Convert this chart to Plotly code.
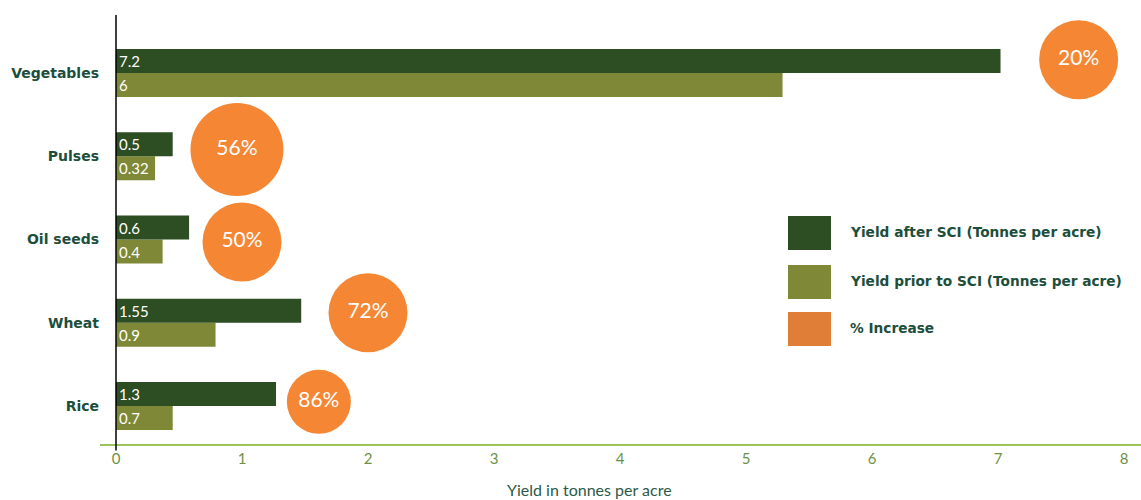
import plotly.graph_objects as go

# ---- data ----
categories = ["Rice", "Wheat", "Oil seeds", "Pulses", "Vegetables"]
yield_after = [1.27, 1.47, 0.58, 0.45, 7.02]          # bar lengths as drawn
yield_after_labels = ["1.3", "1.55", "0.6", "0.5", "7.2"]
yield_prior = [0.45, 0.79, 0.37, 0.31, 5.29]          # bar lengths as drawn
yield_prior_labels = ["0.7", "0.9", "0.4", "0.32", "6"]
pct_increase_labels = ["86%", "72%", "50%", "56%", "20%"]
bubble_x = [1.61, 2.0, 1.0, 0.96, 7.64]
bubble_y_offset = [0.05, 0.12, -0.03, 0.08, 0.16]
bubble_diam = [64, 79, 79, 93, 79]
x_ticks = [0, 1, 2, 3, 4, 5, 6, 7, 8]

DARK = "#2D4D22"
OLIVE = "#7E8836"
ORANGE = "#F58634"
ORANGE_LEG = "#E07E38"
TEXT_GREEN = "#1C4E3B"

pos = list(range(len(categories)))

fig = go.Figure()
fig.add_trace(go.Bar(
    y=pos, x=yield_prior, orientation="h", name="Yield prior to SCI (Tonnes per acre)",
    marker=dict(color=OLIVE, line=dict(width=0)),
    text=yield_prior_labels, textposition="inside", insidetextanchor="start", textangle=0,
    textfont=dict(color="white", size=15, family="Lato"), showlegend=False,
))
fig.add_trace(go.Bar(
    y=pos, x=yield_after, orientation="h", name="Yield after SCI (Tonnes per acre)",
    marker=dict(color=DARK, line=dict(width=0)),
    text=yield_after_labels, textposition="inside", insidetextanchor="start", textangle=0,
    textfont=dict(color="white", size=15, family="Lato"), showlegend=False,
))
fig.add_trace(go.Scatter(
    x=bubble_x, y=[p + o for p, o in zip(pos, bubble_y_offset)], mode="markers+text",
    marker=dict(color=ORANGE, size=bubble_diam, sizemode="diameter", line=dict(width=0), opacity=1),
    text=pct_increase_labels, textposition="middle center",
    textfont=dict(color="white", size=21, family="Lato"), showlegend=False, cliponaxis=False,
))

# y axis line at x = 0
fig.add_shape(type="line", xref="x", yref="paper", x0=0, x1=0, y0=-0.015, y1=1,
              line=dict(color="black", width=1.5))

# manual legend
legend_items = [("Yield after SCI (Tonnes per acre)", DARK),
                ("Yield prior to SCI (Tonnes per acre)", OLIVE),
                ("% Increase", ORANGE_LEG)]
W, H = 1141, 500
ML, MR, MT, MB = 100, 0, 15, 56
pw, ph = W - ML - MR, H - MT - MB
def px(x):
    return (x - ML) / pw
def py(y):
    return (H - MB - y) / ph
row_centers = [233, 282, 329]
for (label, col), yc in zip(legend_items, row_centers):
    fig.add_shape(type="rect", xref="paper", yref="paper",
                  x0=px(788), x1=px(831), y0=py(yc + 17), y1=py(yc - 17),
                  fillcolor=col, line=dict(width=0))
    fig.add_annotation(xref="paper", yref="paper", x=px(848), y=py(yc - 1),
                       xanchor="left", yanchor="middle", showarrow=False, text=label,
                       font=dict(family="DejaVu Sans", size=13.7, color=TEXT_GREEN, weight="bold"))

fig.add_annotation(xref="paper", yref="paper", x=px(589), y=py(489), xanchor="center",
                   yanchor="middle", showarrow=False, text="Yield in tonnes per acre",
                   font=dict(family="Lato", size=16, color="#2B5A48"))

fig.update_layout(
    width=W, height=H, margin=dict(l=ML, r=MR, t=MT, b=MB, pad=0),
    plot_bgcolor="white", paper_bgcolor="white",
    barmode="group", bargap=0.424, bargroupgap=0,
    xaxis=dict(range=[-16 / 126, 1025 / 126], tickvals=x_ticks, showgrid=False, zeroline=False,
               showline=True, linecolor="#9DC458", linewidth=1.5, ticks="",
               tickfont=dict(family="Lato", size=15, color="#6E9148")),
    yaxis=dict(range=[-0.456, 4.697], tickvals=pos, ticktext=categories, showgrid=False,
               zeroline=False, showline=False, ticks="",
               tickfont=dict(family="DejaVu Sans", size=14, color=TEXT_GREEN, weight="bold")),
    font=dict(family="Lato"),
)

fig.write_html("out.html", config={"displayModeBar": False},
               post_script="document.body.style.margin='0';")
